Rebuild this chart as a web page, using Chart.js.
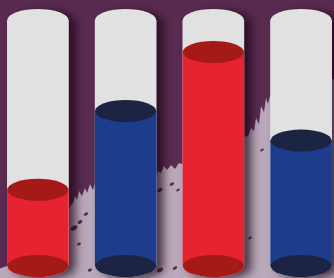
<!DOCTYPE html>
<html>
<head>
<meta charset="utf-8">
<script src="https://cdn.jsdelivr.net/npm/chart.js@4/dist/chart.umd.min.js"></script>
<style>
  html, body { margin: 0; padding: 0; overflow: hidden; background: #5a2b51; }
  #wrap { position: absolute; left: -6px; top: 0; width: 351px; height: 278px; }
</style>
</head>
<body>
<div id="wrap"><canvas id="chart"></canvas></div>
<script>
// data
const categories = ['A', 'B', 'C', 'D'];
const values = [31, 63, 87, 51];
const trackValues = [100, 100, 100, 100];
const fillColors = ['#e62331', '#1e3c8c', '#e62331', '#1e3c8c'];
const capColors = ['#a51916', '#1c2443', '#a51916', '#1c2443'];

const TRACK = '#e1e1e1';
const RY = 11;

// splatter boundary between the purple top and the mauve bottom (page coords)
const edge = [
  [-10, 272], [7, 266], [40, 235], [68, 214], [70, 206], [73, 203], [75, 196], [77, 200],
  [79, 191], [82, 196], [85, 188], [87, 193], [90, 184], [93, 190], [95, 183], [125, 178],
  [156, 178], [158, 171], [161, 173], [164, 166], [167, 170], [171, 165], [175, 169],
  [179, 163], [182, 164], [212, 150], [243, 137], [248, 136], [251, 128], [254, 131],
  [256, 118], [259, 124], [261, 106], [264, 112], [266, 98], [268, 104], [270, 96],
  [300, 88], [331, 80], [345, 76]
];
const specks = [
  [74, 228, 2.2], [80, 222, 1.6], [79, 244, 1.3], [86, 214, 1.5], [160, 190, 1.8],
  [172, 184, 1.5], [178, 190, 1.2], [250, 238, 1.2], [262, 150, 1.2],
  [160, 270, 2], [175, 268, 1.5], [90, 270, 1.4]
];

const backdrop = {
  id: 'backdrop',
  beforeDraw(chart) {
    const ctx = chart.ctx;
    ctx.save();
    ctx.translate(6, 0);
    ctx.fillStyle = '#5a2b51';
    ctx.fillRect(-6, 0, 351, 278);
    ctx.fillStyle = '#b9a8b9';
    ctx.beginPath();
    edge.forEach(([x, y], i) => i ? ctx.lineTo(x, y) : ctx.moveTo(x, y));
    ctx.lineTo(345, 280);
    ctx.lineTo(-10, 280);
    ctx.closePath();
    ctx.fill();
    ctx.fillStyle = '#5a2b51';
    specks.forEach(([x, y, r]) => {
      ctx.beginPath();
      ctx.ellipse(x, y, r * 1.6, r, -0.5, 0, Math.PI * 2);
      ctx.fill();
    });
    ctx.restore();
  }
};

function ellipse(ctx, x, y, rx, color) {
  ctx.fillStyle = color;
  ctx.beginPath();
  ctx.ellipse(x, y, rx, RY, 0, 0, Math.PI * 2);
  ctx.fill();
}

const cylinders = {
  id: 'cylinders',
  beforeDatasetsDraw(chart) {
    const ctx = chart.ctx;
    chart.getDatasetMeta(1).data.forEach(bar => {
      const w = bar.width / 2;
      ctx.save();
      ctx.shadowColor = 'rgba(20,0,15,0.7)';
      ctx.shadowBlur = 10;
      ctx.shadowOffsetX = 7;
      ctx.shadowOffsetY = 2;
      ctx.fillStyle = TRACK;
      ctx.beginPath();
      ctx.ellipse(bar.x, bar.y, w, RY, 0, Math.PI, 0);
      ctx.lineTo(bar.x + w, bar.base);
      ctx.ellipse(bar.x, bar.base, w, RY, 0, 0, Math.PI);
      ctx.closePath();
      ctx.fill();
      ctx.restore();
    });
  },
  afterDatasetsDraw(chart) {
    const ctx = chart.ctx;
    chart.getDatasetMeta(0).data.forEach((bar, i) => {
      const w = bar.width / 2;
      ctx.save();
      ellipse(ctx, bar.x, bar.base, w, capColors[i]);
      ellipse(ctx, bar.x, bar.y, w, capColors[i]);
      ctx.restore();
    });
  }
};

new Chart(document.getElementById('chart'), {
  type: 'bar',
  data: {
    labels: categories,
    datasets: [
      { data: values, backgroundColor: fillColors, grouped: false, barThickness: 61 },
      { data: trackValues, backgroundColor: TRACK, grouped: false, barThickness: 61 }
    ]
  },
  options: {
    responsive: true,
    maintainAspectRatio: false,
    animation: false,
    events: [],
    layout: { padding: { top: 20, bottom: 12, left: 0, right: 0 } },
    plugins: { legend: { display: false }, tooltip: { enabled: false } },
    scales: {
      x: { display: false, offset: true },
      y: { display: false, min: 0, max: 100 }
    }
  },
  plugins: [backdrop, cylinders]
});
</script>
</body>
</html>
